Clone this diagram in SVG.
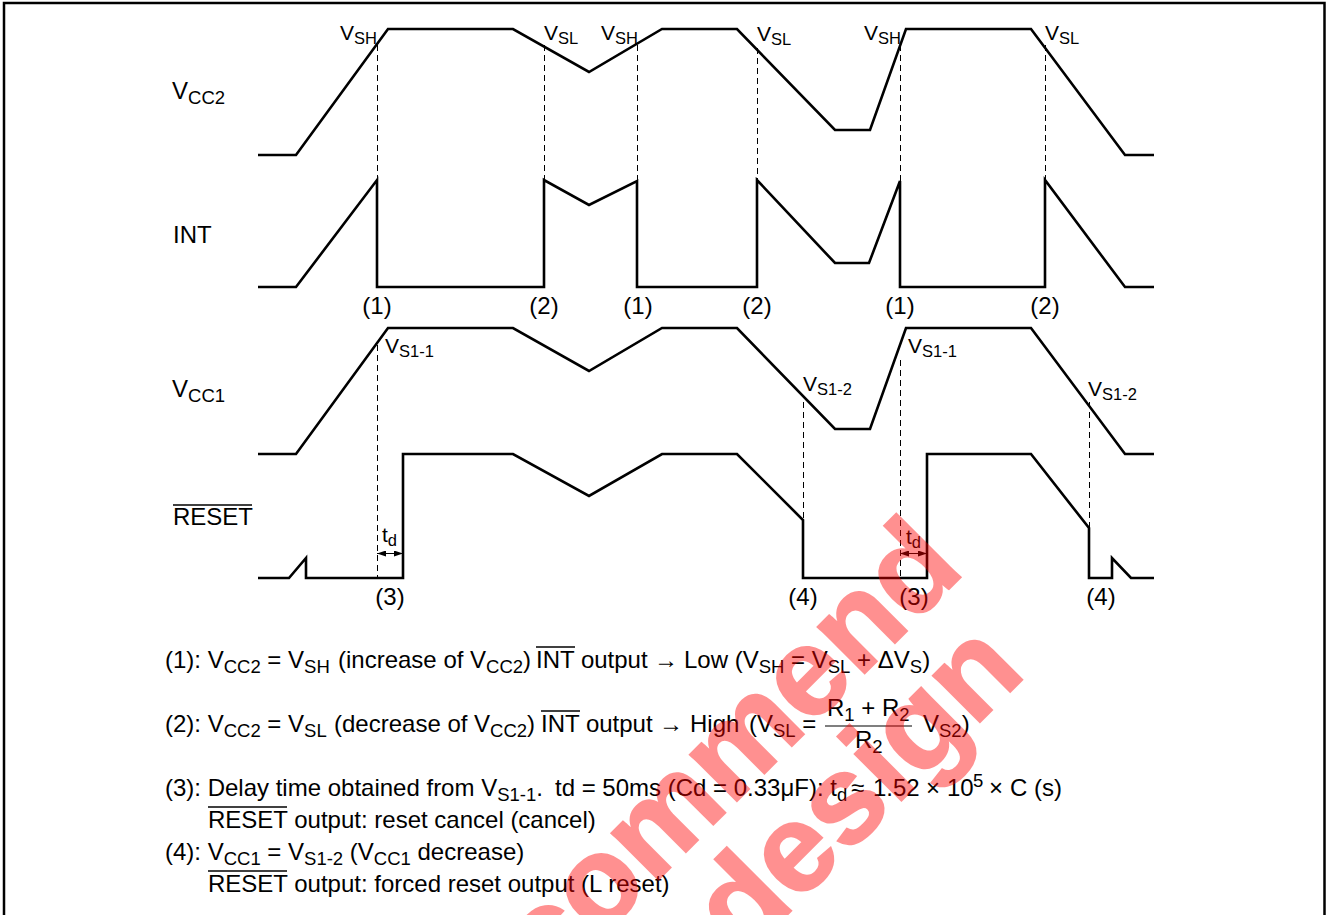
<svg xmlns="http://www.w3.org/2000/svg" width="1326" height="915" viewBox="0 0 1326 915">
<style>
text{font-family:"Liberation Sans",Arial,sans-serif;font-size:24px;fill:#000}
.w{fill:none;stroke:#000;stroke-width:2.6;stroke-linejoin:miter}
.d{fill:none;stroke:#000;stroke-width:1;stroke-dasharray:6 4}
.o{stroke:#000;stroke-width:1.3}
.a{stroke:#000;stroke-width:1;marker-start:url(#al);marker-end:url(#ar)}
.s{font-size:18.5px}
.l{font-size:21px}
.l .s{font-size:16.5px}
.ar{font-family:"Liberation Serif",serif;font-size:24px}
.wm{font-family:"Liberation Sans",Arial,sans-serif;font-weight:bold;font-size:125px;fill:#f00;stroke:#f00;stroke-width:2}
</style>
<defs>
<marker id="ar" markerWidth="10" markerHeight="6" refX="9" refY="3" orient="auto" markerUnits="userSpaceOnUse"><path d="M0 0L9 3L0 6z" fill="#000"/></marker>
<marker id="al" markerWidth="10" markerHeight="6" refX="1" refY="3" orient="auto" markerUnits="userSpaceOnUse"><path d="M10 0L1 3L10 6z" fill="#000"/></marker>
</defs>
<rect width="1326" height="915" fill="#fff"/>
<path d="M4 915V3H1324.5V915" fill="none" stroke="#000" stroke-width="2.5"/>
<g id="connectors">
<polyline id="vcc2" class="w" points="258,155 296,155 388,29 513,29 589,72 662,29 737,29 835,130 870,130 906,29 1031,29 1125,155 1154,155"/>
<polyline id="int" class="w" points="258,287 296,287 377,180 377,287 544,287 544,180 589,205 637,181 637,287 757,287 757,180 835,263 869,263 900,181 900,287 1045,287 1045,180 1125,287 1154,287"/>
<polyline id="vcc1" class="w" points="258,454 296,454 388,328 513,328 589,371 662,328 737,328 835,429 870,429 906,328 1031,328 1125,454 1154,454"/>
<polyline id="reset" class="w" points="258,578 289,578 306,558 306,578 403,578 403,454 513,454 589,496 662,454 737,454 803,520 803,578 927,578 927,454 1031,454 1089,528 1089,578 1112,578 1112,558 1131,578 1154,578"/>
<path class="d" d="M377.5 45V180M544.5 45V180M637.5 45V181M757.5 48V180M900.5 45V181M1045.5 45V180M377.5 345V578M900.5 360V578M803.5 402V520M1089.5 402V528"/>
<line class="a" x1="377" y1="553.5" x2="403" y2="553.5"/>
<line class="a" x1="900" y1="553.5" x2="927" y2="553.5"/>
</g>
<g id="top-labels">
<text class="l" x="340" y="40">V<tspan class="s" dy="4">SH</tspan></text>
<text class="l" x="544" y="40">V<tspan class="s" dy="4">SL</tspan></text>
<text class="l" x="601" y="40">V<tspan class="s" dy="4">SH</tspan></text>
<text class="l" x="757" y="41">V<tspan class="s" dy="4">SL</tspan></text>
<text class="l" x="864" y="40">V<tspan class="s" dy="4">SH</tspan></text>
<text class="l" x="1045" y="40">V<tspan class="s" dy="4">SL</tspan></text>
<text class="l" x="385" y="353">V<tspan class="s" dy="4">S1-1</tspan></text>
<text class="l" x="908" y="353">V<tspan class="s" dy="4">S1-1</tspan></text>
<text class="l" x="803" y="391">V<tspan class="s" dy="4">S1-2</tspan></text>
<text class="l" x="1088" y="396">V<tspan class="s" dy="4">S1-2</tspan></text>
<text class="l" x="382" y="542">t<tspan class="s" dy="4">d</tspan></text>
<text class="l" x="906" y="544">t<tspan class="s" dy="4">d</tspan></text>
</g>
<g id="signal-labels">
<text x="172" y="99">V<tspan class="s" dy="4.5">CC2</tspan></text>
<text x="173" y="243">INT</text>
<text x="172" y="397">V<tspan class="s" dy="4.5">CC1</tspan></text>
<text x="173" y="525">RESET</text>
<line class="o" x1="173" y1="505" x2="252" y2="505"/>
</g>
<g id="event-labels" text-anchor="middle">
<text x="377" y="314">(1)</text>
<text x="544" y="314">(2)</text>
<text x="638" y="314">(1)</text>
<text x="757" y="314">(2)</text>
<text x="900" y="314">(1)</text>
<text x="1045" y="314">(2)</text>
<text x="390" y="605">(3)</text>
<text x="803" y="605">(4)</text>
<text x="914" y="605">(3)</text>
<text x="1101" y="605">(4)</text>
</g>
<g id="notes">
<text x="165" y="668">(1): V<tspan class="s" dy="5">CC2</tspan><tspan dy="-5"> = V</tspan><tspan class="s" dy="5">SH</tspan><tspan dy="-5"> </tspan><tspan x="338">(increase of V</tspan><tspan class="s" dy="5">CC2</tspan><tspan dy="-5">)</tspan><tspan x="536">INT output</tspan><tspan class="ar" x="654">→</tspan><tspan x="684">Low (V</tspan><tspan class="s" dy="5">SH</tspan><tspan dy="-5"> = V</tspan><tspan class="s" dy="5">SL</tspan><tspan dy="-5"> + ΔV</tspan><tspan class="s" dy="5">S</tspan><tspan dy="-5">)</tspan></text>
<line class="o" x1="536" y1="647" x2="575" y2="647"/>
<text x="165" y="732">(2): V<tspan class="s" dy="5">CC2</tspan><tspan dy="-5"> = V</tspan><tspan class="s" dy="5">SL</tspan><tspan x="334" dy="-5">(decrease of V</tspan><tspan class="s" dy="5">CC2</tspan><tspan dy="-5">)</tspan><tspan x="541">INT output</tspan><tspan class="ar" x="659">→</tspan><tspan x="690">High</tspan><tspan x="749">(V</tspan><tspan class="s" dy="5">SL</tspan><tspan dy="-5"> =</tspan></text>
<line class="o" x1="541" y1="711" x2="580" y2="711"/>
<text x="827" y="716">R<tspan class="s" dy="5">1</tspan><tspan dy="-5"> + R</tspan><tspan class="s" dy="5">2</tspan></text>
<line x1="825" y1="726" x2="912" y2="726" stroke="#000" stroke-width="1.2"/>
<text x="855" y="748">R<tspan class="s" dy="5">2</tspan></text>
<text x="923" y="732">V<tspan class="s" dy="5">S2</tspan><tspan dy="-5">)</tspan></text>
<text x="165" y="796">(3): Delay time obtained from V<tspan class="s" dy="5">S1-1</tspan><tspan dy="-5">.</tspan><tspan x="555">td = 50ms (Cd = 0.33μF): t</tspan><tspan class="s" dy="5">d</tspan><tspan x="851" dy="-5">≈</tspan><tspan x="873">1.52</tspan><tspan x="926">×</tspan><tspan x="947">10</tspan><tspan class="s" x="973" dy="-9">5</tspan><tspan x="989" dy="9">×</tspan><tspan x="1010">C (s)</tspan></text>
<text x="208" y="828">RESET output: reset cancel (cancel)</text>
<line class="o" x1="208" y1="807" x2="287" y2="807"/>
<text x="165" y="860">(4): V<tspan class="s" dy="5">CC1</tspan><tspan dy="-5"> = V</tspan><tspan class="s" dy="5">S1-2</tspan><tspan dy="-5"> (V</tspan><tspan class="s" dy="5">CC1</tspan><tspan dy="-5"> decrease)</tspan></text>
<text x="208" y="892">RESET output: forced reset output (L reset)</text>
<line class="o" x1="208" y1="871" x2="287" y2="871"/>
</g>
<g id="watermark" opacity=".43">
<text class="wm" transform="translate(549 989) rotate(-45)">commend</text>
<text class="wm" transform="translate(743 959) rotate(-45)">design</text>
</g>
</svg>
